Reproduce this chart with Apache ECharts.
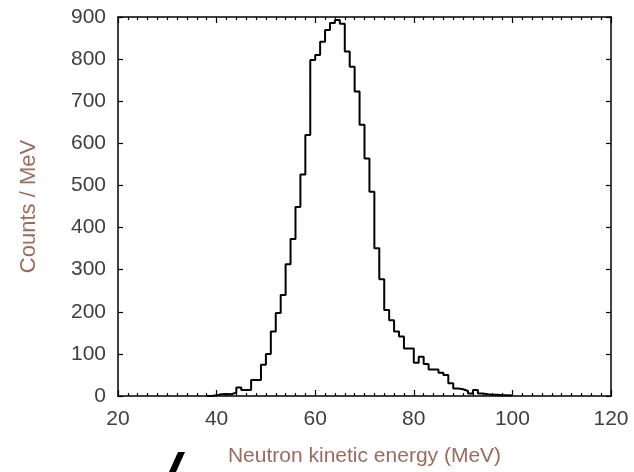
<!DOCTYPE html>
<html>
<head>
<meta charset="utf-8">
<script src="https://cdn.jsdelivr.net/npm/echarts@6/dist/echarts.min.js"></script>
<style>html,body{margin:0;padding:0;background:#fff}#c{width:634px;height:472px}</style>
</head>
<body>
<div id="c"></div>
<script>
// Histogram: 1 MeV bins, left edges and counts per MeV
var binEdges = [38,39,40,41,42,43,44,45,46,47,48,49,50,51,52,53,54,55,56,57,58,59,60,61,62,63,64,65,66,67,68,69,70,71,72,73,74,75,76,77,78,79,80,81,82,83,84,85,86,87,88,89,90,91,92,93,94,95,96,97,98,99,100];
var counts   = [0,2,4,5,4,8,20,14,14,38,38,74,100,153,197,240,313,373,449,526,620,798,810,841,869,886,893,884,818,782,723,644,564,485,351,277,204,180,153,141,113,113,79,93,76,63,63,55,50,30,18,16,12,6,14,6,4,3,3,2,2,1,0];
var xTicks = [20,40,60,80,100,120];
var yTicks = [0,100,200,300,400,500,600,700,800,900];

var data = binEdges.map(function(e,i){return [e,counts[i]];});
var tickColor = '#404040';
var titleColor = '#9c6b5a';
var font = 'Liberation Sans, Arial, sans-serif';

function xAx(pos, showLabel){
  return {
    type:'value', position:pos, min:xTicks[0], max:xTicks[xTicks.length-1], interval:20,
    name: showLabel ? 'Neutron kinetic energy (MeV)' : '',
    nameLocation:'middle', nameGap:50,
    nameTextStyle:{color:titleColor,fontSize:21,fontFamily:font},
    axisLine:{show:true,onZero:false,lineStyle:{color:'#000',width:1.5}},
    axisTick:{show:true,inside:true,length:6,lineStyle:{color:'#000',width:1.2}},
    minorTick:{show:true,splitNumber:10,length:3,lineStyle:{color:'#000',width:1.2}},
    axisLabel:{show:showLabel,color:tickColor,fontSize:21,fontFamily:font,margin:13},
    splitLine:{show:false}
  };
}
function yAx(pos, showLabel){
  return {
    type:'value', position:pos, min:yTicks[0], max:yTicks[yTicks.length-1], interval:100,
    name: showLabel ? 'Counts / MeV' : '',
    nameLocation:'middle', nameGap:78, nameRotate:90,
    nameTextStyle:{color:titleColor,fontSize:22,fontFamily:font},
    axisLine:{show:true,onZero:false,lineStyle:{color:'#000',width:1.5}},
    axisTick:{show:true,inside:true,length:5,lineStyle:{color:'#000',width:1.2}},
    axisLabel:{show:showLabel,color:tickColor,fontSize:21,fontFamily:font,margin:12},
    splitLine:{show:false}
  };
}

var chart = echarts.init(document.getElementById('c'), null, {renderer:'canvas'});
chart.setOption({
  animation:false,
  backgroundColor:'#fff',
  grid:{left:118,right:23,top:17,bottom:76},
  xAxis:[xAx('bottom',true), xAx('top',false)],
  yAxis:[yAx('left',true), yAx('right',false)],
  series:[{
    type:'line', step:'end', data:data, xAxisIndex:0, yAxisIndex:0,
    showSymbol:false, lineStyle:{color:'#000',width:2}
  }],
  graphic:[{
    type:'polygon',
    shape:{points:[[178,452],[185,452],[176,472],[169,472]]},
    style:{fill:'#000'}
  }]
});
</script>
</body>
</html>
